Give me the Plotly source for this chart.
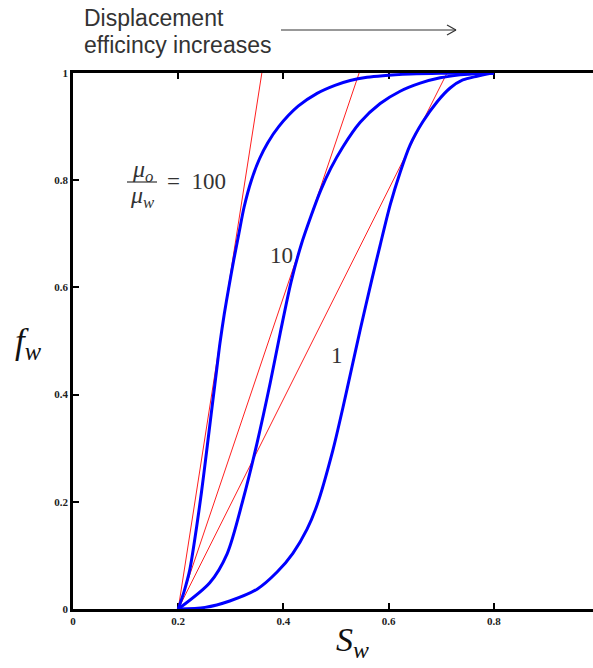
import plotly.graph_objects as go

# ---- data ----
# fractional flow curves, mu_o/mu_w = 100, 10, 1
sw_100 = [0.200, 0.211, 0.222, 0.235, 0.244, 0.252, 0.259, 0.266, 0.2736, 0.2794,
          0.2875, 0.2962, 0.3054, 0.3153, 0.3253, 0.3392, 0.3546, 0.3703, 0.3911,
          0.428, 0.464, 0.498, 0.527, 0.559, 0.589, 0.641, 0.698, 0.800]
fw_100 = [0.000, 0.032, 0.073, 0.153, 0.216, 0.278, 0.334, 0.390, 0.450, 0.496,
          0.550, 0.600, 0.650, 0.700, 0.750, 0.800, 0.840, 0.870, 0.900,
          0.938, 0.962, 0.977, 0.986, 0.992, 0.995, 0.998, 0.9995, 1.000]

sw_10 = [0.200, 0.260, 0.293, 0.323, 0.350, 0.375, 0.394, 0.4145, 0.434, 0.4525,
         0.4705, 0.490, 0.513, 0.546, 0.584, 0.622, 0.660, 0.698, 0.736, 0.774, 0.800]
fw_10 = [0.000, 0.049, 0.103, 0.203, 0.310, 0.422, 0.515, 0.610, 0.680, 0.733,
         0.780, 0.822, 0.862, 0.908, 0.943, 0.966, 0.981, 0.991, 0.9965, 0.9993, 1.000]

sw_1 = [0.200, 0.251, 0.298, 0.350, 0.388, 0.418, 0.445, 0.464, 0.494, 0.513,
        0.530, 0.546, 0.568, 0.584, 0.603, 0.622, 0.641, 0.665, 0.692,
        0.717, 0.741, 0.768, 0.787, 0.800]
fw_1 = [0.000, 0.003, 0.015, 0.037, 0.069, 0.104, 0.149, 0.194, 0.296, 0.375,
        0.450, 0.521, 0.614, 0.679, 0.754, 0.815, 0.866, 0.909, 0.946,
        0.972, 0.987, 0.994, 0.998, 1.000]

# tangent (Welge) lines from the initial saturation to fw = 1
tangent_sw = [[0.200, 0.359], [0.200, 0.544], [0.200, 0.711]]
tangent_fw = [0.0, 1.0]

x_ticks = [0, 0.2, 0.4, 0.6, 0.8]
x_ticktext = ["0", "0.2", "0.4", "0.6", "0.8"]
y_ticks = [0, 0.2, 0.4, 0.6, 0.8, 1]
y_ticktext = ["0", "0.2", "0.4", "0.6", "0.8", "1"]

# ---- layout geometry (pixels) ----
W, H = 593, 668
L, R, T, B = 73, 0, 73, 59
PW, PH = W - L - R, H - T - B
X_PER_PX = 1.0 / 526.0
XMAX = PW * X_PER_PX


def px(x):
    return (x - L) / PW


def py(y):
    return (H - B - y) / PH


SERIF = "Liberation Serif"
BLUE = "#0000ff"
RED = "#ff2020"

fig = go.Figure()

for xs in tangent_sw:
    fig.add_trace(go.Scatter(x=xs, y=tangent_fw, mode="lines",
                             line=dict(color=RED, width=1), hoverinfo="skip",
                             showlegend=False))

for xs, ys in [(sw_100, fw_100), (sw_10, fw_10), (sw_1, fw_1)]:
    fig.add_trace(go.Scatter(x=xs, y=ys, mode="lines",
                             line=dict(color=BLUE, width=3, shape="spline", smoothing=0.8),
                             hoverinfo="skip", showlegend=False))

annotations = []


def ann(text, x, y, size, xanchor="center", family=SERIF, color="#222222"):
    annotations.append(dict(text=text, xref="paper", yref="paper", x=px(x), y=py(y),
                            xanchor=xanchor, yanchor="middle", showarrow=False,
                            font=dict(family=family, size=size, color=color)))


# header
ann("Displacement", 82, 18, 23, xanchor="left", family="Liberation Sans", color="#333333")
ann("efficincy increases", 82, 45, 23, xanchor="left", family="Liberation Sans", color="#333333")

# axis titles
ann("<i>S</i><sub><i>w</i></sub>", 352, 642, 34, color="#111111")
ann("<i>f</i><sub><i>w</i></sub>", 28, 343, 35, color="#111111")

# curve labels
ann("<i>μ</i><sub><i>o</i></sub>", 142, 171, 24, color="#333333")
ann("<i>μ</i><sub><i>w</i></sub>", 142, 197, 24, color="#333333")
ann("=\u00a0\u00a0100", 165, 181, 23, xanchor="left", color="#333333")
ann("10", 281, 256, 23, color="#333333")
ann("1", 337, 355, 23, color="#333333")

shapes = [
    # fraction bar
    dict(type="line", xref="paper", yref="paper", x0=px(127), x1=px(157),
         y0=py(182), y1=py(182), line=dict(color="#333333", width=1.2)),
    # header arrow
    dict(type="line", xref="paper", yref="paper", x0=px(281), x1=px(456),
         y0=py(30), y1=py(30), line=dict(color="#333333", width=1.2)),
    dict(type="line", xref="paper", yref="paper", x0=px(447), x1=px(456),
         y0=py(25), y1=py(30), line=dict(color="#333333", width=1.2)),
    dict(type="line", xref="paper", yref="paper", x0=px(447), x1=px(456),
         y0=py(35), y1=py(30), line=dict(color="#333333", width=1.2)),
]

axis_common = dict(showline=True, linecolor="black", linewidth=2.5,
                   ticks="inside", ticklen=6, tickwidth=1.5, tickcolor="black",
                   showgrid=False, zeroline=False, layer="below traces",
                   tickfont=dict(family=SERIF, size=11, color="#222222", weight="bold"))

fig.update_layout(
    width=W, height=H,
    margin=dict(l=L, r=R, t=T, b=B, pad=0),
    paper_bgcolor="white", plot_bgcolor="white",
    xaxis=dict(range=[0, XMAX], tickvals=x_ticks, ticktext=x_ticktext,
               mirror="ticks", **axis_common),
    yaxis=dict(range=[0, 1], tickvals=y_ticks, ticktext=y_ticktext,
               mirror=False, **axis_common),
    annotations=annotations,
    shapes=shapes,
)

fig.write_html("out.html")
